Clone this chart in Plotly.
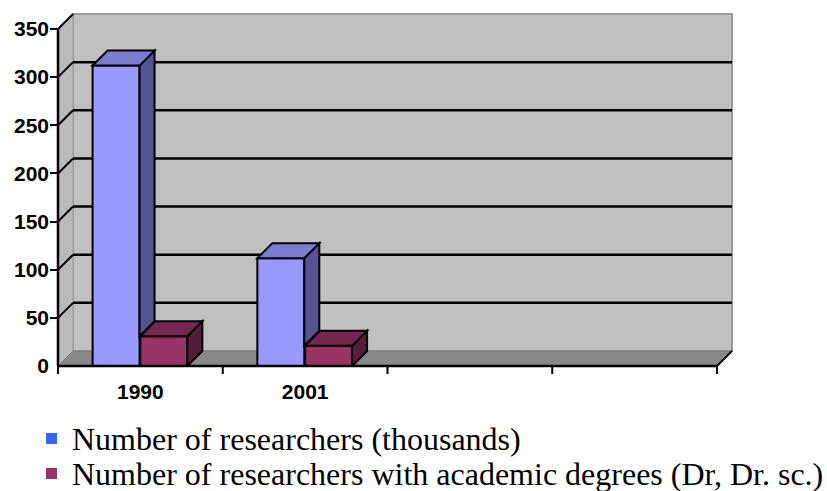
import plotly.graph_objects as go

# ---- data ----
categories = ["1990", "2001"]
researchers = [312, 112]            # Number of researchers (thousands)
researchers_degrees = [31, 21]      # with academic degrees (Dr, Dr. sc.)
series_names = ["Number of researchers (thousands)",
                "Number of researchers with academic degrees (Dr, Dr. sc.)"]
y_tick_values = [0, 50, 100, 150, 200, 250, 300, 350]
n_slots = 4  # category slots on the x axis (two are empty)

# ---- styling / layout constants ----
W, H = 827, 491
L_PX, R_PX, T_PX, B_PX = 50, 740, 10, 366
X0_PX, X1_PX = 58, 717            # pixel positions of x = -0.5 and x = n_slots-0.5
Y_TOP_VAL, Y_TOP_PX = 350, 29
P = (X1_PX - X0_PX) / n_slots     # px per x unit
Q = (B_PX - Y_TOP_PX) / Y_TOP_VAL # px per y unit
x_range = [-0.5 - (X0_PX - L_PX) / P, -0.5 + (R_PX - X0_PX) / P]
y_range = [0, (B_PX - T_PX) / Q]
DX = 15 / P
DY = 15 / Q
BW = 0.285
OFFS = [-0.29, 0.0]
FRONT = ["#9999FF", "#993366"]
TOP = ["#7B7BCF", "#74264F"]
SIDE = ["#545494", "#561D3B"]
LEG_COL = ["#3366FF", "#993366"]
LEG_ROW_PX = [438.5, 473.5]       # vertical centre of each legend row
LEG_SQ_X_PX = 46
LEG_SQ = 11
LEG_TEXT_X_PX = 71
values = [researchers, researchers_degrees]

xl, xr = -0.5, n_slots - 0.5
ymax = y_tick_values[-1]

def poly(pts):
    return "M " + " L ".join(f"{x},{y}" for x, y in pts) + " Z"

def px_to_paper_x(px):
    return (px - L_PX) / (R_PX - L_PX)

def px_to_paper_y(py):
    return (B_PX - py) / (B_PX - T_PX)

shapes = []
# back wall
shapes.append(dict(type="path", layer="below", xref="x", yref="y",
                   path=poly([(xl + DX, DY), (xr + DX, DY), (xr + DX, ymax + DY), (xl + DX, ymax + DY)]),
                   fillcolor="#C0C0C0", line=dict(color="#9A9A9A", width=2)))
# left wall
shapes.append(dict(type="path", layer="below", xref="x", yref="y",
                   path=poly([(xl, 0), (xl + DX, DY), (xl + DX, ymax + DY), (xl, ymax)]),
                   fillcolor="#BABABA", line=dict(color="#9A9A9A", width=1)))
# floor
shapes.append(dict(type="path", layer="below", xref="x", yref="y",
                   path=poly([(xl, 0), (xr, 0), (xr + DX, DY), (xl + DX, DY)]),
                   fillcolor="#888888", line=dict(color="#7A7A7A", width=1)))
# gridlines on back wall and left wall
for t in y_tick_values[1:]:
    if t < ymax:
        shapes.append(dict(type="line", layer="below", xref="x", yref="y",
                           x0=xl + DX, x1=xr + DX, y0=t + DY, y1=t + DY,
                           line=dict(color="black", width=2.5)))
    shapes.append(dict(type="line", layer="below", xref="x", yref="y",
                       x0=xl, x1=xl + DX, y0=t, y1=t + DY,
                       line=dict(color="black", width=2)))
# floor right slanted edge
shapes.append(dict(type="line", layer="above", xref="x", yref="y",
                   x0=xr, x1=xr + DX, y0=0, y1=DY, line=dict(color="black", width=2)))
# y axis line
shapes.append(dict(type="line", layer="above", xref="x", yref="y",
                   x0=xl, x1=xl, y0=0, y1=ymax, line=dict(color="black", width=2.5)))
# x axis line + boundary ticks
plot_h = B_PX - T_PX
shapes.append(dict(type="line", layer="above", xref="x", yref="paper",
                   x0=xl, x1=xr, y0=0, y1=0, line=dict(color="black", width=2.5)))
for k in range(n_slots + 1):
    shapes.append(dict(type="line", layer="above", xref="x", yref="paper",
                       x0=xl + k, x1=xl + k, y0=0, y1=-8 / plot_h,
                       line=dict(color="black", width=2)))

# 3D faces of the bars
for i, vals in enumerate(values):
    for j, v in enumerate(vals):
        left = j + OFFS[i]
        right = left + BW
        base = 0
        if i + 1 < len(values) and values[i + 1][j] < v:
            base = values[i + 1][j]
        shapes.append(dict(type="path", layer="above", xref="x", yref="y",
                           path=poly([(right, v), (right + DX, v + DY), (right + DX, base + DY), (right, base)]),
                           fillcolor=SIDE[i], line=dict(color="black", width=2)))
        shapes.append(dict(type="path", layer="above", xref="x", yref="y",
                           path=poly([(left, v), (right, v), (right + DX, v + DY), (left + DX, v + DY)]),
                           fillcolor=TOP[i], line=dict(color="black", width=2)))

# legend: colour squares + text
legend_font = dict(family="Liberation Serif, Times New Roman, serif", size=32, color="black")
annotations = []
for i, name in enumerate(series_names):
    cy = LEG_ROW_PX[i]
    shapes.append(dict(type="rect", xref="paper", yref="paper", layer="above",
                       x0=px_to_paper_x(LEG_SQ_X_PX), x1=px_to_paper_x(LEG_SQ_X_PX + LEG_SQ),
                       y0=px_to_paper_y(cy + LEG_SQ / 2), y1=px_to_paper_y(cy - LEG_SQ / 2),
                       fillcolor=LEG_COL[i], line=dict(width=0)))
    annotations.append(dict(text=name, xref="paper", yref="paper",
                            x=px_to_paper_x(LEG_TEXT_X_PX), y=px_to_paper_y(cy),
                            xanchor="left", yanchor="middle", showarrow=False,
                            font=legend_font, borderpad=0))

fig = go.Figure()
for i, vals in enumerate(values):
    fig.add_trace(go.Bar(x=list(range(len(categories))), y=vals, width=BW, offset=OFFS[i],
                         name=series_names[i],
                         marker=dict(color=FRONT[i], line=dict(color="black", width=2)),
                         showlegend=False, hoverinfo="skip"))

tick_font = dict(family="Liberation Sans, Arial", size=21, color="black", weight="bold")

fig.update_layout(
    width=W, height=H,
    margin=dict(l=L_PX, r=W - R_PX, t=T_PX, b=H - B_PX, pad=0, autoexpand=False),
    paper_bgcolor="white", plot_bgcolor="white",
    barmode="overlay",
    showlegend=False,
    shapes=shapes,
    annotations=annotations,
    xaxis=dict(range=x_range, showgrid=False, zeroline=False, showline=False,
               tickmode="array", tickvals=list(range(len(categories))), ticktext=categories,
               ticks="", tickfont=tick_font, ticklabelstandoff=11, fixedrange=True,
               automargin=False),
    yaxis=dict(range=y_range, showgrid=False, zeroline=False, showline=False,
               tickmode="array", tickvals=y_tick_values, ticks="inside", ticklen=8,
               tickwidth=2, tickcolor="black", tickfont=tick_font, fixedrange=True,
               automargin=False),
)

fig.write_html("out.html",
               config={"displayModeBar": False, "staticPlot": True},
               post_script="document.body.style.margin='0';document.body.style.overflow='hidden';")
